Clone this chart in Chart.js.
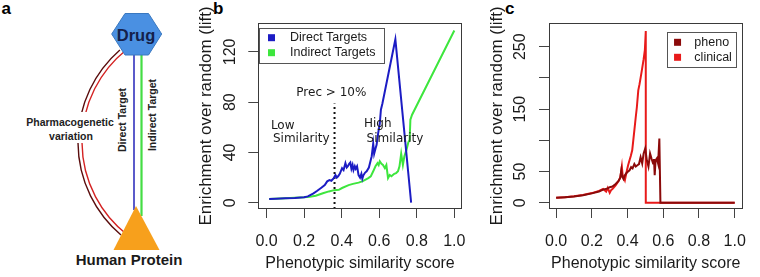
<!DOCTYPE html>
<html>
<head>
<meta charset="utf-8">
<script src="https://cdn.jsdelivr.net/npm/chart.js@4"></script>
<style>
  html, body { margin: 0; padding: 0; background: #fff; }
  body { width: 760px; height: 277px; position: relative; overflow: hidden; }
  svg { position: absolute; left: 0; top: 0; }
  canvas { position: absolute; top: 0; }
  #chartB { left: 195px; }
  #chartC { left: 483px; }
</style>
</head>
<body>
<svg width="760" height="277" font-family="Liberation Sans, Arial, sans-serif">
  <text x="1.5" y="13.5" font-size="17" font-weight="bold">a</text>
  <text x="213" y="13.5" font-size="17" font-weight="bold">b</text>
  <text x="505" y="13.5" font-size="17" font-weight="bold">c</text>

  <!-- pharmacogenetic arc, double line -->
  <path d="M119.9 50 A122 122 0 0 0 121 235" stroke="#5a0c0c" stroke-width="1.4" fill="none"/>
  <path d="M126.1 50 A118 118 0 0 0 127.4 235" stroke="#d42222" stroke-width="1.4" fill="none"/>
  <rect x="25" y="112" width="92" height="31" fill="#fff"/>
  <text x="70" y="126" font-size="10.5" font-weight="bold" text-anchor="middle" fill="#222">Pharmacogenetic</text>
  <text x="71" y="140" font-size="10.5" font-weight="bold" text-anchor="middle" fill="#222">variation</text>

  <line x1="134" y1="55" x2="134" y2="210" stroke="#2424b8" stroke-width="1.5"/>
  <line x1="141.5" y1="55" x2="141.5" y2="216" stroke="#44dd44" stroke-width="2.2"/>
  <text transform="translate(121.7,120) rotate(-90)" font-size="10.5" font-weight="bold" text-anchor="middle" dominant-baseline="central" fill="#222">Direct Target</text>
  <text transform="translate(151.7,115) rotate(-90)" font-size="10.5" font-weight="bold" text-anchor="middle" dominant-baseline="central" fill="#222">Indirect Target</text>

  <polygon points="111.7,34 125,13.5 148.5,13.5 161.7,34 148.5,55 125,55" fill="#4a90e2" stroke="#3a78c0" stroke-width="1"/>
  <text x="136" y="41" font-size="16.5" font-weight="bold" text-anchor="middle" fill="#14204a">Drug</text>
  <polygon points="136,206 113.5,250 159.5,250" fill="#f7a01c"/>
  <text x="129" y="264.5" font-size="15" font-weight="bold" text-anchor="middle" fill="#1a1a1a">Human Protein</text>
</svg>

<canvas id="chartB" width="285" height="277"></canvas>
<canvas id="chartC" width="277" height="277"></canvas>

<script>
// ---- panel b: enrichment by target type ----
const directX = [0.014, 0.05, 0.10, 0.15, 0.20, 0.22, 0.25, 0.27, 0.29, 0.31, 0.323, 0.335, 0.345, 0.358, 0.367,
  0.374, 0.381, 0.39, 0.402, 0.41, 0.42, 0.427, 0.433, 0.44, 0.446, 0.452, 0.458, 0.463, 0.47, 0.475, 0.482,
  0.49, 0.498, 0.505, 0.51, 0.516, 0.525, 0.533, 0.545, 0.555, 0.56, 0.568, 0.573, 0.58, 0.586, 0.594, 0.603,
  0.609, 0.617, 0.686, 0.770];
const directY = [3, 3.2, 3.5, 3.8, 4.3, 5, 7.5, 9.5, 11.7, 14, 17, 18, 17.5, 19.6, 22,
  20, 21, 23, 27.5, 26, 31.5, 28, 29, 31, 32, 27, 30, 26, 29, 27, 29,
  22, 20, 23, 19, 22, 24, 25, 28, 34, 37, 47, 39, 43, 46, 55, 63,
  74, 79, 130, 0];
const indirectX = [0.014, 0.10, 0.20, 0.23, 0.262, 0.30, 0.332, 0.36, 0.385, 0.402, 0.437, 0.46, 0.49, 0.51,
  0.542, 0.555, 0.568, 0.58, 0.591, 0.597, 0.603, 0.612, 0.62, 0.63, 0.638, 0.647, 0.656, 0.665, 0.68, 0.69,
  0.70, 0.708, 0.717, 0.726, 0.734, 0.745, 0.755, 0.762, 0.766, 0.775, 1.0];
const indirectY = [3, 3.5, 4.3, 4.8, 5.5, 7.5, 9, 10, 10.3, 11.7, 14, 15, 16, 17,
  19.6, 21, 25, 29, 31.5, 30, 33, 31, 30, 27.5, 30, 19.6, 22, 21, 23, 23.6,
  25, 29, 39, 30, 37, 42, 48, 50, 66, 70, 137];
const precCutX = [0.362, 0.362];
const precCutY = [-5, 79];
const yTicksB = [0, 20, 40, 60, 80, 100, 120, 140];
const yLabelsB = [0, 40, 80, 120];

// ---- panel c: enrichment by evidence type ----
const phenoX = [0, 0.05, 0.10, 0.15, 0.20, 0.24, 0.263, 0.289, 0.30, 0.315, 0.333, 0.35, 0.359, 0.365, 0.37,
  0.377, 0.385, 0.395, 0.403, 0.411, 0.42, 0.428, 0.438, 0.446, 0.455, 0.464, 0.473, 0.482, 0.49, 0.499,
  0.508, 0.517, 0.526, 0.534, 0.543, 0.548, 0.552, 0.557, 0.564, 0.571, 0.578, 0.584, 1.0];
const phenoY = [8, 9, 10, 12, 15, 18, 21, 23, 25, 26, 30, 35, 40, 52, 42,
  38, 44, 48, 50, 52, 57, 55, 62, 58, 60, 62, 73, 63, 79, 87,
  68, 58, 79, 71, 63, 70, 44, 68, 71, 63, 103, 0, 0];
const clinicalX = [0, 0.05, 0.10, 0.15, 0.20, 0.24, 0.263, 0.28, 0.289, 0.30, 0.307, 0.315, 0.333, 0.345, 0.359,
  0.368, 0.372, 0.377, 0.385, 0.395, 0.403, 0.411, 0.418, 0.426, 0.432, 0.438, 0.445, 0.452, 0.46, 0.467,
  0.473, 0.48, 0.49, 0.497, 0.502, 0.502, 1.0];
const clinicalY = [8, 9, 10.5, 12.5, 15.5, 19, 22, 18, 24, 16, 20, 22, 28, 33, 40,
  58, 45, 42, 36, 50, 60, 68, 75, 84, 100, 116, 135, 153, 180, 190,
  200, 212, 230, 245, 275, 0, 0];
const yTicksC = [0, 50, 100, 150, 200, 250];
const yLabelsC = [0, 50, 150, 250];

const xTicks = [0, 0.2, 0.4, 0.6, 0.8, 1.0];

const pts = (xs, ys) => xs.map((x, i) => ({ x: x, y: ys[i] }));

const SANS = '"Liberation Sans", Arial, sans-serif';
Chart.defaults.font.family = SANS;
Chart.defaults.color = '#1a1a1a';

// box around the plot region (R style)
const framePlugin = {
  id: 'frame',
  afterDraw(chart) {
    const { ctx, chartArea: a } = chart;
    ctx.save();
    ctx.strokeStyle = '#3a3a3a';
    ctx.lineWidth = 1;
    ctx.strokeRect(Math.round(a.left) + 0.5, Math.round(a.top) + 0.5,
      Math.round(a.width) - 1, Math.round(a.height) - 1);
    ctx.restore();
  }
};

// legend drawn inside the plot with a border
const boxLegend = {
  id: 'boxLegend',
  afterDraw(chart, args, o) {
    if (!o || !o.show) return;
    const { ctx, chartArea: a } = chart;
    const items = chart.data.datasets.filter(d => d.inLegend);
    ctx.save();
    ctx.font = '12.5px ' + SANS;
    const textW = Math.max(...items.map(d => ctx.measureText(d.label).width));
    const w = o.textX + textW + o.padR;
    const h = o.rowH * items.length + o.padV * 2;
    const left = o.corner === 'right' ? a.right - o.insetX - w : a.left + o.insetX;
    const top = a.top + o.insetY;
    ctx.fillStyle = '#fff';
    ctx.fillRect(left, top, w, h);
    ctx.strokeStyle = '#555';
    ctx.lineWidth = 1;
    ctx.strokeRect(Math.round(left) + 0.5, Math.round(top) + 0.5, Math.round(w), Math.round(h));
    items.forEach((d, i) => {
      const cy = top + o.padV + o.rowH * (i + 0.5);
      ctx.fillStyle = d.borderColor;
      ctx.fillRect(left + o.boxX, cy - 3.5, 7, 7);
      ctx.fillStyle = '#1a1a1a';
      ctx.textBaseline = 'middle';
      ctx.fillText(d.label, left + o.textX, cy);
    });
    ctx.restore();
  }
};

// free text notes placed at data coordinates
const notesPlugin = {
  id: 'notes',
  afterDatasetsDraw(chart, args, o) {
    if (!o || !o.items) return;
    const { ctx, scales } = chart;
    ctx.save();
    ctx.font = '12px "DejaVu Sans", sans-serif';
    ctx.fillStyle = '#1a1a1a';
    ctx.textAlign = 'center';
    ctx.textBaseline = 'middle';
    o.items.forEach(n => {
      ctx.fillText(n.text, scales.x.getPixelForValue(n.x), scales.y.getPixelForValue(n.y));
    });
    ctx.restore();
  }
};

function line(label, data, color, extra) {
  return Object.assign({
    label: label, data: data, borderColor: color, backgroundColor: color,
    borderWidth: 2, pointRadius: 0, tension: 0, fill: false, inLegend: true
  }, extra || {});
}

function options(cfg) {
  return {
    responsive: false,
    animation: false,
    events: [],
    layout: { padding: { left: 0, right: cfg.padRight, top: 23, bottom: 0 } },
    plugins: {
      legend: { display: false },
      tooltip: { enabled: false },
      boxLegend: cfg.legend,
      notes: cfg.notes
    },
    scales: {
      x: {
        type: 'linear',
        min: cfg.xMin, max: cfg.xMax,
        afterBuildTicks: s => { s.ticks = xTicks.map(v => ({ value: v })); },
        afterFit: s => { s.height = 68; },
        border: { display: false },
        grid: { drawOnChartArea: false, tickLength: 9, color: '#444' },
        ticks: { font: { size: 16 }, padding: 14, maxRotation: 0, callback: v => v.toFixed(1) },
        title: { display: true, text: 'Phenotypic similarity score', font: { size: 16 }, padding: { top: 0, bottom: 3.4 } }
      },
      y: {
        min: cfg.yMin, max: cfg.yMax,
        afterBuildTicks: s => { s.ticks = cfg.yTicks.map(v => ({ value: v })); },
        afterFit: s => { s.width = cfg.yWidth; },
        border: { display: false },
        grid: { drawOnChartArea: false, tickLength: 10, color: '#444' },
        ticks: {
          font: { size: 16 }, padding: cfg.yPad, minRotation: 90, maxRotation: 90, crossAlign: 'center',
          callback: v => cfg.yLabels.includes(v) ? String(v) : ''
        },
        title: { display: true, text: 'Enrichment over random (lift)', font: { size: 17 }, padding: { top: cfg.yTitlePad, bottom: 0 } }
      }
    }
  };
}

new Chart(document.getElementById('chartB'), {
  type: 'line',
  data: {
    datasets: [
      line('Direct Targets', pts(directX, directY), '#1c1cc4'),
      line('Indirect Targets', pts(indirectX, indirectY), '#3de63d'),
      line('Prec > 10%', pts(precCutX, precCutY), '#111', { borderDash: [2, 3], inLegend: false })
    ]
  },
  options: options({
    padRight: 15, xMin: -0.044, xMax: 1.04, yMin: -5, yMax: 143,
    yTicks: yTicksB, yLabels: yLabelsB, yWidth: 63.3, yPad: 4, yTitlePad: 1.3,
    legend: { show: true, corner: 'left', insetX: 1, insetY: 4.7, boxX: 8.7, textX: 30.7, padR: 8.7, rowH: 15, padV: 2.5 },
    notes: { items: [
      { text: 'Prec > 10%', x: 0.345, y: 87.2 },
      { text: 'Low', x: 0.086, y: 61 },
      { text: 'Similarity', x: 0.185, y: 50.6 },
      { text: 'High', x: 0.592, y: 62.6 },
      { text: 'Similarity', x: 0.684, y: 50.6 }
    ] }
  }),
  plugins: [framePlugin, boxLegend, notesPlugin]
});

new Chart(document.getElementById('chartC'), {
  type: 'line',
  data: {
    datasets: [
      line('pheno', pts(phenoX, phenoY), '#8b0a0a'),
      line('clinical', pts(clinicalX, clinicalY), '#e81a1a')
    ]
  },
  options: options({
    padRight: 4.3, xMin: -0.04, xMax: 1.044, yMin: -10, yMax: 288,
    yTicks: yTicksC, yLabels: yLabelsC, yWidth: 66, yPad: 4.7, yTitlePad: 3.8,
    legend: { show: true, corner: 'right', insetX: 6.7, insetY: 9.3, boxX: 6.7, textX: 27, padR: 4, rowH: 15, padV: 2.5 }
  }),
  plugins: [framePlugin, boxLegend]
});
</script>
</body>
</html>
